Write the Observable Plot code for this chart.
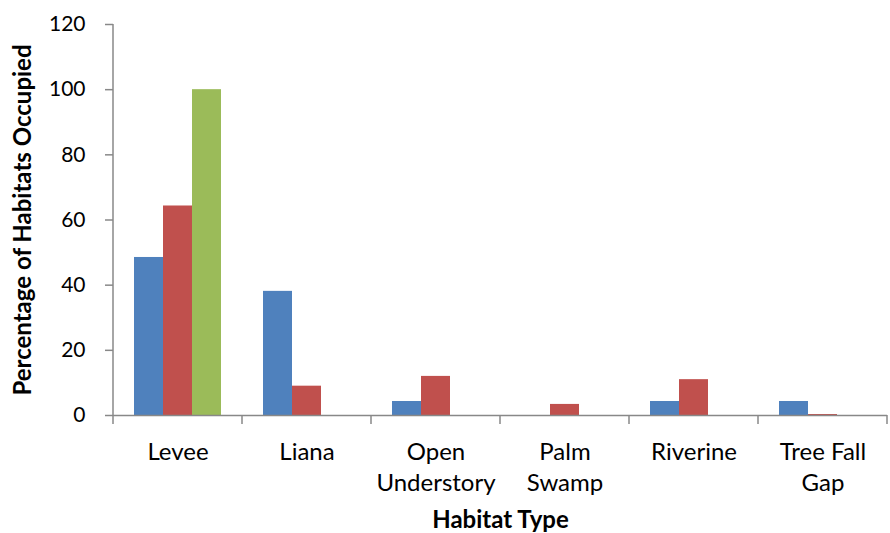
<!DOCTYPE html>
<html>
<head>
<meta charset="utf-8">
<script src="https://cdn.jsdelivr.net/npm/d3@7"></script>
<script src="https://cdn.jsdelivr.net/npm/@observablehq/plot@0.6"></script>
<style>
  html, body { margin: 0; padding: 0; background: #fff; }
  #chart svg g[aria-label$="axis label"] text, #chart svg g[aria-label$="axis label"] { font-weight: bold; font-size: 24px; }
  #chart svg g[aria-label="fx-axis tick label"] { font-size: 24px; }
</style>
</head>
<body>
<div id="chart"></div>
<script>
const categories = ["Levee", "Liana", "Open Understory", "Palm Swamp", "Riverine", "Tree Fall Gap"];
const categoryLabels = ["Levee", "Liana", "Open\nUnderstory", "Palm\nSwamp", "Riverine", "Tree Fall\nGap"];
const seriesNames = ["Series 1", "Series 2", "Series 3"];
const series1 = [48.5, 38.1, 4.3, 0, 4.3, 4.3];
const series2 = [64.3, 9.0, 12.0, 3.4, 11.0, 0.3];
const series3 = [100, 0, 0, 0, 0, 0];
const seriesColors = ["#4F81BD", "#C0504D", "#9BBB59"];
const yTicks = [0, 20, 40, 60, 80, 100, 120];

const allSeries = [series1, series2, series3];
const data = [];
categories.forEach((c, i) => {
  seriesNames.forEach((s, j) => data.push({cat: c, series: s, value: allSeries[j][i]}));
});

const axisGray = "#888888";

const plot = Plot.plot({
  width: 890,
  height: 533,
  marginLeft: 110,
  marginRight: 1,
  marginTop: 24,
  marginBottom: 118,
  style: {fontFamily: "Lato, 'Liberation Sans', sans-serif", fontSize: "21px", color: "#000", background: "#fff", overflow: "visible"},
  fx: {domain: categories, padding: 0},
  x: {domain: seriesNames, paddingInner: 0, paddingOuter: 0.71, axis: null},
  y: {domain: [0, 120]},
  color: {domain: seriesNames, range: seriesColors},
  marks: [
    Plot.barY(data, {fx: "cat", x: "series", y: "value", fill: "series", inset: 0}),
    Plot.ruleY([0], {stroke: axisGray, strokeWidth: 1.5}),
    Plot.axisY({
      ticks: yTicks, tickSize: 8, tickPadding: 20, stroke: axisGray, strokeWidth: 1.5,
      label: "Percentage of Habitats Occupied", labelAnchor: "center", labelArrow: "none", labelOffset: 100
    }),
    Plot.axisFx({
      anchor: "bottom",
      tickSize: 0, tickPadding: 22, lineHeight: 1.3, fontSize: 24,
      tickFormat: d => categoryLabels[categories.indexOf(d)],
      label: "Habitat Type", labelAnchor: "center", labelArrow: "none", labelOffset: 112
    })
  ]
});

document.getElementById("chart").appendChild(plot);

// axis line and category boundary ticks from the plot's own scales
const fx = plot.scale("fx");
const y = plot.scale("y");
const g = d3.select(plot).append("g").attr("stroke", axisGray).attr("stroke-width", 1.5);
const x0 = fx.apply(categories[0]);
g.append("line").attr("x1", x0).attr("x2", x0).attr("y1", y.apply(0)).attr("y2", y.apply(120));
const edges = categories.map(c => fx.apply(c)).concat([fx.apply(categories[categories.length - 1]) + fx.bandwidth]);
edges.forEach(e => {
  g.append("line").attr("x1", e).attr("x2", e).attr("y1", y.apply(0)).attr("y2", y.apply(0) + 9);
});
</script>
</body>
</html>
